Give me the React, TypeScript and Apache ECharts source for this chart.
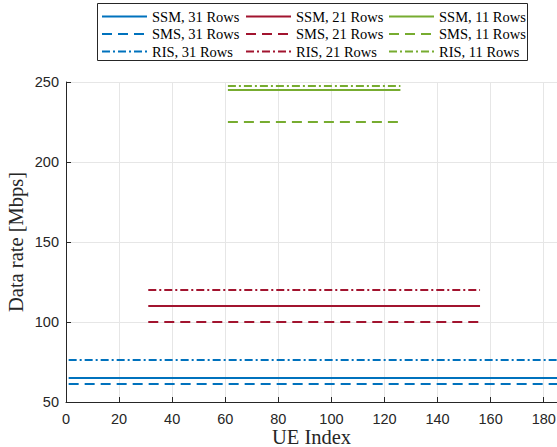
import React, { useEffect, useRef } from "react";
import * as echarts from "echarts";

// UE index ranges covered by each configuration
const ueRange31 = [1, 186];
const ueRange21 = [31, 156];
const ueRange11 = [61, 126];
// Data rates [Mbps] per scheme for 31, 21, 11 rows
const ssmRates = [65, 110, 245];
const smsRates = [61.2, 100, 225];
const risRates = [76.3, 120, 247.5];

const rowLabels = ["31", "21", "11"];
const colors = ["#0072BD", "#A2142F", "#77AC30"];
const ranges = [ueRange31, ueRange21, ueRange11];
const schemes = [
  { name: "SSM", rates: ssmRates, type: "solid" as any },
  { name: "SMS", rates: smsRates, type: [10, 6] as any },
  { name: "RIS", rates: risRates, type: [8, 3, 2, 3] as any },
];

const xTicks = { min: 0, max: 185, interval: 20 };
const yTicks = { min: 50, max: 250, interval: 50 };

export default function App() {
  const ref = useRef<HTMLDivElement>(null);
  useEffect(() => {
    if (!ref.current) return;
    const chart = echarts.init(ref.current, null, { renderer: "svg" });
    const series: any[] = [];
    const legendCols: string[][] = [[], [], []];
    rowLabels.forEach((r, ci) => {
      schemes.forEach((s) => {
        const name = `${s.name}, ${r} Rows`;
        legendCols[ci].push(name);
        series.push({
          name,
          type: "line",
          symbol: "none",
          showSymbol: false,
          clip: true,
          data: ranges[ci].map((x) => [x, s.rates[ci]]),
          lineStyle: { color: colors[ci], width: 2, type: s.type },
          itemStyle: { color: colors[ci] },
        });
      });
    });
    const legendLefts = [101, 245, 388];
    const legends = legendCols.map((names, i) => ({
      orient: "vertical",
      left: legendLefts[i],
      top: 9,
      itemWidth: 45,
      itemHeight: 14,
      itemGap: 2.5,
      data: names,
      selectedMode: false,
      itemStyle: { opacity: 0 },
      textStyle: { fontFamily: "Liberation Serif", fontSize: 14.5, lineHeight: 14, color: "#000" },
      padding: 0,
    }));
    chart.setOption({
      animation: false,
      grid: {
        left: 66,
        top: 82,
        right: 0,
        bottom: 45,
        containLabel: false,
        outerBoundsMode: "none",
      },
      legend: legends,
      graphic: [
        {
          type: "rect",
          shape: { x: 97.5, y: 3.5, width: 430, height: 57 },
          style: { fill: "none", stroke: "#262626", lineWidth: 1 },
          z: 100,
        },
      ],
      xAxis: {
        type: "value",
        ...xTicks,
        name: "UE Index",
        nameLocation: "middle",
        nameGap: 24,
        nameMoveOverlap: false,
        nameTextStyle: { fontFamily: "Liberation Serif", fontSize: 20.5, color: "#262626" },
        axisLine: { show: true, lineStyle: { color: "#262626", width: 1 } },
        axisTick: { show: true, inside: true, length: 5, lineStyle: { color: "#262626" } },
        axisLabel: {
          showMaxLabel: false,
          fontFamily: "Liberation Sans",
          fontSize: 14.5,
          color: "#262626",
          margin: 9,
        },
        splitLine: { show: true, lineStyle: { color: "#e6e6e6", width: 1 } },
      },
      yAxis: {
        type: "value",
        ...yTicks,
        name: "Data rate [Mbps]",
        nameLocation: "middle",
        nameGap: 40,
        nameMoveOverlap: false,
        nameTextStyle: { fontFamily: "Liberation Serif", fontSize: 20.5, color: "#262626" },
        axisLine: { show: true, lineStyle: { color: "#262626", width: 1 } },
        axisTick: { show: true, inside: true, length: 5, lineStyle: { color: "#262626" } },
        axisLabel: {
          fontFamily: "Liberation Sans",
          fontSize: 14.5,
          color: "#262626",
          margin: 7,
        },
        splitLine: { show: true, lineStyle: { color: "#e6e6e6", width: 1 } },
      },
      series,
    });
    return () => chart.dispose();
  }, []);
  return (
    <div
      ref={ref}
      style={{ position: "fixed", left: 0, top: 0, width: 557, height: 447, background: "#fff" }}
    />
  );
}
